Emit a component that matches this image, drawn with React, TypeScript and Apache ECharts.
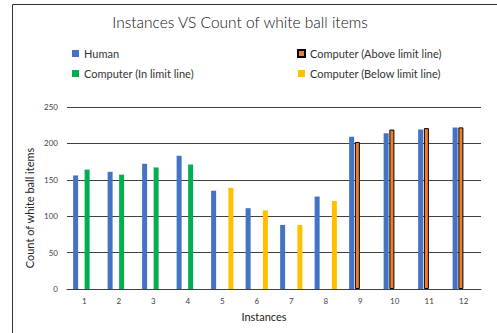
import React, { useEffect, useRef } from "react";
import * as echarts from "echarts";

const categories = ["1", "2", "3", "4", "5", "6", "7", "8", "9", "10", "11", "12"];
const human = [156, 161, 172, 183, 135, 111, 88, 127, 209, 214, 219, 222];
const computerAbove = [null, null, null, null, null, null, null, null, 202, 219, 221, 222];
const computerIn = [164, 157, 167, 171, null, null, null, null, null, null, null, null];
const computerBelow = [null, null, null, null, 139, 108, 88, 121, null, null, null, null];
const yTicks = { min: 0, max: 250, interval: 50 };

const FONT = "Lato, 'Open Sans', sans-serif";

export default function App() {
  const ref = useRef<HTMLDivElement>(null);
  useEffect(() => {
    if (!ref.current) return;
    const chart = echarts.init(ref.current, undefined, { renderer: "svg" });
    const legendText = { fontFamily: FONT, fontSize: 11, color: "#333" };
    chart.setOption({
      animation: false,
      backgroundColor: "#fff",
      title: {
        text: "Instances VS Count of white ball items",
        left: 240,
        top: 14,
        textAlign: "center",
        padding: 0,
        textStyle: { fontFamily: FONT, fontSize: 15.5, fontWeight: 300, color: "#111" },
      },
      legend: [
        {
          data: ["Human", "Computer (In limit line)"],
          orient: "vertical",
          left: 72,
          top: 48,
          padding: 0,
          itemWidth: 7,
          itemHeight: 7,
          itemGap: 9,
          textStyle: legendText,
          icon: "rect",
        },
        {
          data: ["Computer (Above limit line)", "Computer (Below limit line)"],
          orient: "vertical",
          left: 297,
          top: 48,
          padding: 0,
          itemWidth: 7,
          itemHeight: 7,
          itemGap: 9,
          textStyle: legendText,
          icon: "rect",
        },
      ],
      grid: { left: 67, right: 16, top: 107, bottom: 44, containLabel: false },
      xAxis: {
        type: "category",
        data: categories,
        axisTick: { show: false },
        axisLine: { lineStyle: { color: "#404040", width: 1 } },
        axisLabel: { fontFamily: FONT, fontSize: 8, color: "#404040", margin: 8 },
      },
      yAxis: {
        type: "value",
        min: yTicks.min,
        max: yTicks.max,
        interval: yTicks.interval,
        axisLine: { show: false },
        axisTick: { show: false },
        axisLabel: { fontFamily: FONT, fontSize: 8, color: "#404040", margin: 9 },
        splitLine: { lineStyle: { color: "#404040", width: 1 } },
      },
      series: [
        {
          name: "Human",
          type: "bar",
          data: human,
          barWidth: 5,
          barGap: "15%",
          barCategoryGap: "30%",
          itemStyle: { color: "#4472C4" },
        },
        {
          name: "Computer (Above limit line)",
          type: "bar",
          data: computerAbove,
          barWidth: 5,
          itemStyle: { color: "#ED7D31", borderColor: "#000", borderWidth: 1 },
        },
        {
          name: "Computer (In limit line)",
          type: "bar",
          data: computerIn,
          barWidth: 5,
          itemStyle: { color: "#00B050" },
        },
        {
          name: "Computer (Below limit line)",
          type: "bar",
          data: computerBelow,
          barWidth: 5,
          itemStyle: { color: "#FFC000" },
        },
      ],
      graphic: [
        {
          type: "rect",
          shape: { x: 12.5, y: 4.5, width: 600, height: 400 },
          style: { fill: "none", stroke: "#333", lineWidth: 1 },
          silent: true,
        },
        {
          type: "text",
          x: 29,
          y: 208,
          rotation: Math.PI / 2,
          style: {
            text: "Count of white ball items",
            fontFamily: FONT,
            fontSize: 11,
            fill: "#222",
            align: "center",
            verticalAlign: "middle",
          },
        },
        {
          type: "text",
          x: 264,
          y: 316,
          style: {
            text: "Instances",
            fontFamily: FONT,
            fontSize: 11,
            fill: "#222",
            align: "center",
            verticalAlign: "middle",
          },
        },
      ],
    });
    return () => chart.dispose();
  }, []);
  return (
    <div
      ref={ref}
      style={{ position: "absolute", left: 0, top: 0, width: 497, height: 333 }}
    />
  );
}
